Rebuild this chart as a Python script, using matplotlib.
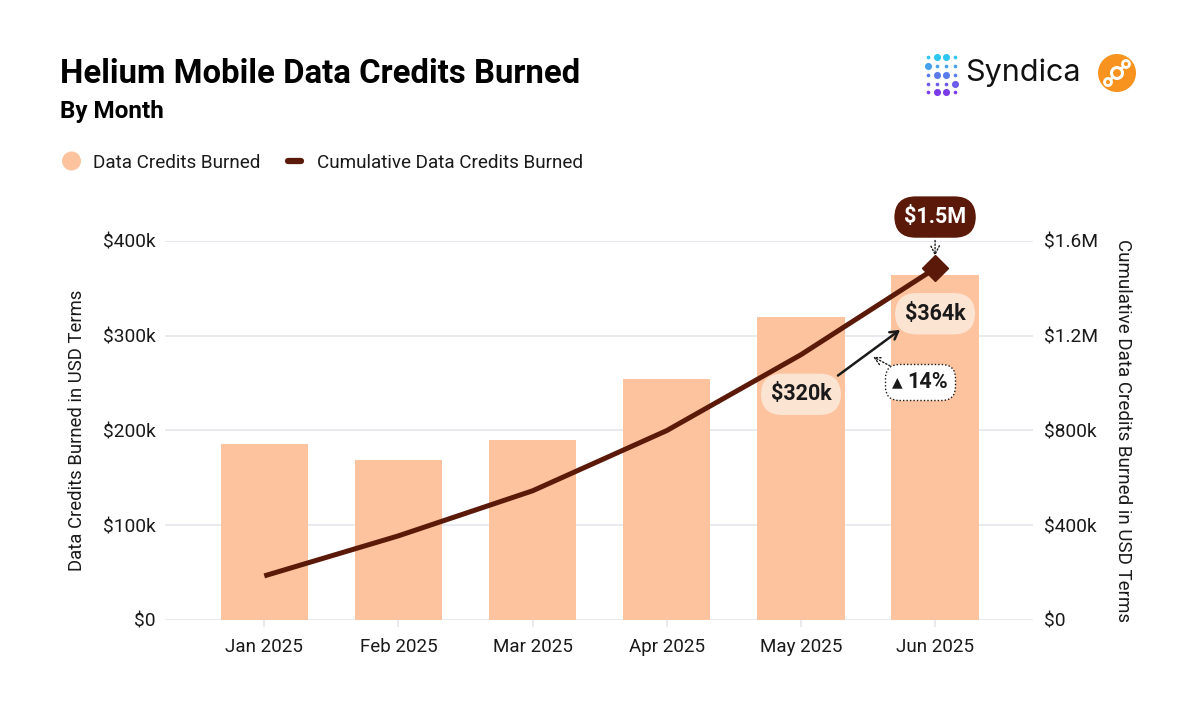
import matplotlib
matplotlib.use("Agg")
import matplotlib.pyplot as plt
import numpy as np
from matplotlib.transforms import offset_copy
from matplotlib.offsetbox import TextArea, HPacker, AnnotationBbox
from matplotlib.patches import Circle

# ---------------- data ----------------
months = ["Jan 2025", "Feb 2025", "Mar 2025", "Apr 2025", "May 2025", "Jun 2025"]
burned = [186000, 169000, 190000, 254000, 320000, 364000]
cumulative = list(np.cumsum(burned))
left_ticks = [0, 100000, 200000, 300000, 400000]
left_tick_labels = ["$0", "$100k", "$200k", "$300k", "$400k"]
right_ticks = [0, 400000, 800000, 1200000, 1600000]
right_tick_labels = ["$0", "$400k", "$800k", "$1.2M", "$1.6M"]
title = "Helium Mobile Data Credits Burned"
subtitle = "By Month"
legend_labels = ["Data Credits Burned", "Cumulative Data Credits Burned"]
left_label = "Data Credits Burned in USD Terms"
right_label = "Cumulative Data Credits Burned in USD Terms"
label_last_cum = "$1.5M"
label_last = "$364k"
label_prev = "$320k"
label_change = "14%"

# ---------------- style ----------------
BAR = "#FCC39E"
LINE = "#5B1A09"
GRID = "#E4E6EC"
PILL = "#FCE4D3"
TXT = "#1a1a1a"
plt.rcParams["font.family"] = ["Roboto", "DejaVu Sans"]

W, H = 1200, 719
fig = plt.figure(figsize=(12, 7.19), dpi=100)
fig.patch.set_facecolor("white")

def fx(px):
    return px / W

def fy(py):
    return 1 - py / H

ax = fig.add_axes([fx(165), fy(620), fx(1033) - fx(165), fy(240.7) - fy(620)])
ax2 = ax.twinx()

x = np.arange(len(months))
ax.bar(x, burned, width=0.65, color=BAR, zorder=2)
ax.set_xlim(-0.74, len(months) - 1 + 0.73)
ax.set_ylim(0, 400000)
ax2.set_ylim(0, 1600000)

ax.set_yticks(left_ticks)
ax.set_yticklabels(left_tick_labels)
ax2.set_yticks(right_ticks)
ax2.set_yticklabels(right_tick_labels)
ax.set_xticks(x)
ax.set_xticklabels(months)

ax.grid(axis="y", color=GRID, linewidth=1.2, zorder=0)
ax.set_axisbelow(True)
for a in (ax, ax2):
    for s in a.spines.values():
        s.set_visible(False)
ax.tick_params(axis="y", length=0, pad=7, labelsize=13.8, labelcolor=TXT)
ax2.tick_params(axis="y", length=0, pad=8, labelsize=13.8, labelcolor=TXT)
ax.tick_params(axis="x", length=5, color=GRID, width=1.2, pad=8, labelsize=13.5, labelcolor=TXT)

ax.set_ylabel(left_label, fontsize=13.3, color=TXT, labelpad=12)
ax2.set_ylabel(right_label, fontsize=13.5, color=TXT, rotation=270, labelpad=24)

ax2.plot(x, cumulative, color=LINE, linewidth=3.6, solid_capstyle="butt", zorder=3)
ax2.plot([x[-1]], [cumulative[-1]], marker="D", markersize=13, color=LINE, zorder=4)
ax.set_zorder(ax2.get_zorder() - 1)
ax.patch.set_visible(False)
ax2.patch.set_visible(False)

pill_box = dict(boxstyle="round,pad=0.45,rounding_size=1.0", ec="none")

# $1.5M label
ax2.annotate(label_last_cum, xy=(x[-1], cumulative[-1]), xytext=(0, 37),
             textcoords="offset points", ha="center", va="center",
             fontsize=15.5, fontweight="bold", color="white",
             bbox=dict(pill_box, fc=LINE),
             arrowprops=dict(arrowstyle="->", linestyle=(0, (1, 1.5)), color=TXT, lw=1,
                             shrinkA=2, shrinkB=9),
             annotation_clip=False, zorder=6)

# value pills
ax2.annotate(label_last, xy=(x[-1], burned[-1]), xycoords=ax.transData,
             xytext=(0, -28), textcoords="offset points", ha="center", va="center",
             fontsize=15.5, fontweight="bold", color=TXT,
             bbox=dict(pill_box, fc=PILL), zorder=6)
ax2.annotate(label_prev, xy=(x[-2], burned[-2]), xycoords=ax.transData,
             xytext=(0, -56), textcoords="offset points", ha="center", va="center",
             fontsize=15.5, fontweight="bold", color=TXT,
             bbox=dict(pill_box, fc=PILL), zorder=6)

# arrow between pills
tip = offset_copy(ax.transData, fig=fig, x=-35, y=-55, units="dots")
tail = offset_copy(ax.transData, fig=fig, x=37, y=-59, units="dots")
ax2.annotate("", xy=(x[-1], burned[-1]), xycoords=tip,
             xytext=(x[-2], burned[-2]), textcoords=tail,
             arrowprops=dict(arrowstyle="->,head_length=0.55,head_width=0.32", color=TXT, lw=1.8,
                             shrinkA=0, shrinkB=0), zorder=6)

# % change pill with dotted border
tri = TextArea("▲", textprops=dict(fontsize=10, color=TXT, family=["DejaVu Sans"]))
pct = TextArea(label_change, textprops=dict(fontsize=15.5, fontweight="bold", color=TXT))
pack = HPacker(children=[tri, pct], align="center", pad=0, sep=3)
change_tip = offset_copy(ax.transData, fig=fig, x=-62, y=-82, units="dots")
ab = AnnotationBbox(pack, (x[-1], burned[-1]), xycoords=change_tip,
                    xybox=(47 * 0.72, -25 * 0.72), boxcoords="offset points",
                    frameon=True, pad=0.4,
                    bboxprops=dict(boxstyle="round,pad=0.5,rounding_size=1.0", fc="white",
                                   ec=TXT, lw=1, linestyle=(0, (1, 1.5))),
                    arrowprops=dict(arrowstyle="->", linestyle=(0, (1, 1.5)), color=TXT, lw=1,
                                    shrinkA=0, shrinkB=0),
                    annotation_clip=False, zorder=6)
ax2.add_artist(ab)

# ---------------- titles & legend ----------------
fig.text(fx(60), fy(83), title, fontsize=23.7, fontweight="bold", color="black", va="baseline")
fig.text(fx(60), fy(118), subtitle, fontsize=17.5, fontweight="bold", color="black", va="baseline")

overlay = fig.add_axes([0, 0, 1, 1], zorder=10)
overlay.set_xlim(0, W)
overlay.set_ylim(H, 0)
overlay.axis("off")
overlay.patch.set_visible(False)

overlay.add_patch(Circle((71.5, 161), 9.5, fc=BAR, ec="none"))
fig.text(fx(93), fy(167.5), legend_labels[0], fontsize=13.6, color=TXT, va="baseline")
overlay.plot([288, 301], [161, 161], color=LINE, lw=4.5, solid_capstyle="round")
fig.text(fx(317), fy(167.5), legend_labels[1], fontsize=13.6, color=TXT, va="baseline")

# ---------------- logos ----------------
dots_x = [928, 937, 946, 955]
dots_y = [57, 66, 75, 84, 92]
pattern_big = [
    [0, 1, 1, 0],
    [1, 0, 0, 0],
    [0, 1, 1, 0],
    [0, 0, 0, 1],
    [0, 1, 1, 0],
]
cmap = matplotlib.colors.LinearSegmentedColormap.from_list("s", ["#2FC7F2", "#5B7BEA", "#7A3CE6"])
for j, yy in enumerate(dots_y):
    for i, xx in enumerate(dots_x):
        s = 26 if pattern_big[j][i] else 7
        overlay.scatter([xx], [yy], s=s, color=cmap(j / 4), linewidths=0)
overlay.text(965, 73, "Syndica", fontsize=22, color="#111", va="center", ha="left",
             family=["Inter", "Roboto"])
overlay.add_patch(Circle((1117, 73), 19, fc="#F7931E", ec="none"))
overlay.add_patch(Circle((1117, 73), 5.5, fc="none", ec="white", lw=2.2))
overlay.add_patch(Circle((1108, 82), 3.5, fc="none", ec="white", lw=2))
overlay.add_patch(Circle((1126, 64), 3.5, fc="none", ec="white", lw=2))
overlay.plot([1110.5, 1113], [79.5, 77], color="white", lw=2)
overlay.plot([1121, 1123.5], [69, 66.5], color="white", lw=2)

fig.savefig("out.png", dpi=100, facecolor="white")
